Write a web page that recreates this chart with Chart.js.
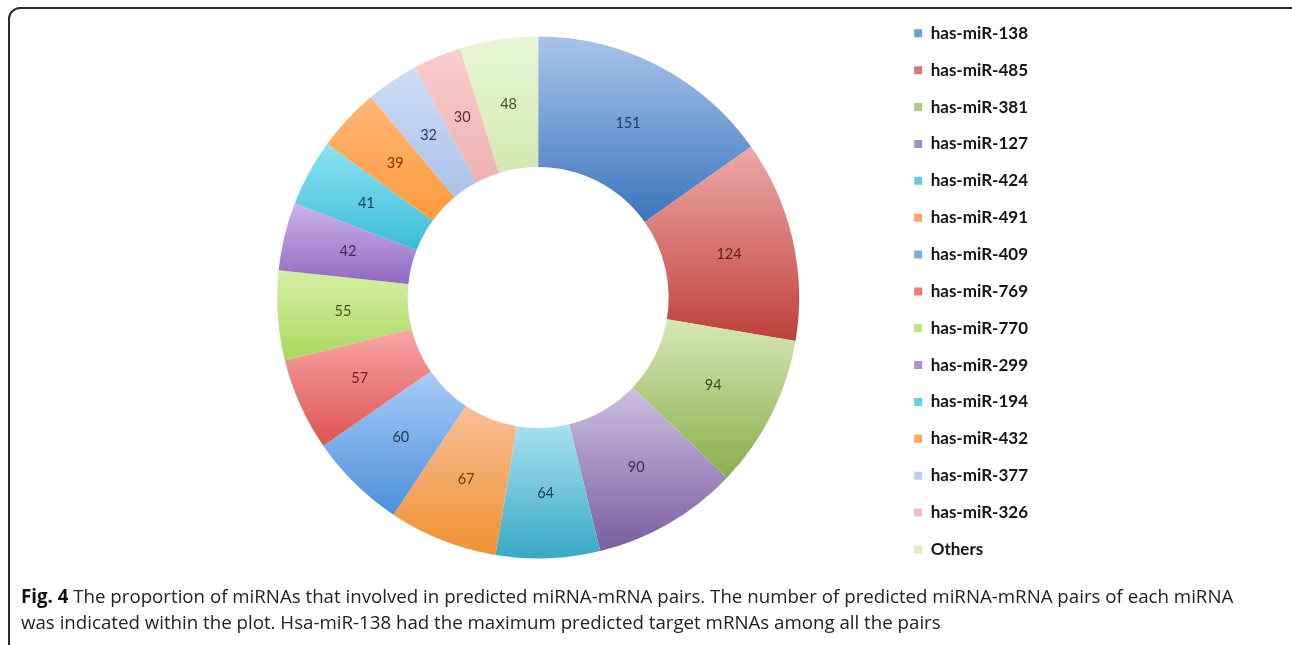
<!DOCTYPE html>
<html>
<head>
<meta charset="utf-8">
<script src="https://cdn.jsdelivr.net/npm/chart.js@4"></script>
<style>
  html, body { margin: 0; padding: 0; background: #fff; width: 1292px; height: 645px; overflow: hidden; }
  .frame { position: absolute; left: 8px; top: 7px; width: 1310px; height: 660px; border: 2px solid #2b2b2b; border-radius: 12px; box-sizing: border-box; }
  .plot { position: absolute; left: 182px; top: 4.5px; }
  .caption { position: absolute; left: 21px; top: 583px; width: 1225px; font-family: "Open Sans", sans-serif; font-size: 18.7px; line-height: 26px; color: #222; }
  .caption b { font-weight: 700; color: #111; }
</style>
</head>
<body>
<div class="frame"></div>
<div class="plot"><canvas id="chart" width="856" height="585"></canvas></div>
<div class="caption"><b>Fig. 4</b> The proportion of miRNAs that involved in predicted miRNA-mRNA pairs. The number of predicted miRNA-mRNA pairs of each miRNA was indicated within the plot. Hsa-miR-138 had the maximum predicted target mRNAs among all the pairs</div>
<script>
// miRNA names, clockwise from 12 o'clock
const mirnas = ['has-miR-138', 'has-miR-485', 'has-miR-381', 'has-miR-127', 'has-miR-424',
  'has-miR-491', 'has-miR-409', 'has-miR-769', 'has-miR-770', 'has-miR-299',
  'has-miR-194', 'has-miR-432', 'has-miR-377', 'has-miR-326', 'Others'];
// number of predicted miRNA-mRNA pairs per miRNA
const pairCounts = [151, 124, 94, 90, 64, 67, 60, 57, 55, 42, 41, 39, 32, 30, 48];

// slice colours: top of each slice (light) to bottom (deep)
const lightTones = ['#A9C4EA', '#EDA9A7', '#D6E7B5', '#CCBFE0', '#A8E0F0', '#F9BE96', '#A9CCF7',
  '#F8A6A6', '#D6EFA4', '#D0B3E8', '#8CE3F2', '#FFB677', '#CCDDF5', '#F8CDCD', '#E9F5D5'];
const deepTones = ['#3A75BD', '#C0403D', '#8AAE4C', '#7A5DA0', '#38A8C6', '#F0912F', '#4A8FDB',
  '#DE5252', '#A9D860', '#8E6AC2', '#3ABCD8', '#FF9A3C', '#ABC2EA', '#EFB2B2', '#D3E8B1'];
const midTones = ['#6E9BD4', '#D77775', '#B0CB80', '#A390C2', '#6FC4DB', '#F5A866', '#77AEEA',
  '#EC7B7B', '#BEE37F', '#AE8ED6', '#62CFE5', '#FFA85A', '#BCCFEF', '#F3BFBF', '#DEEEC3'];
const valueInk = ['#1F3A66', '#5B1E1C', '#3C4D1F', '#3B2A55', '#163E4C', '#6A3A0E', '#1C3A62',
  '#6B1F1F', '#3E5A18', '#3C2A5C', '#123F4E', '#6E3C0A', '#2A3A5E', '#6B2A2E', '#3E4E28'];

// vertical extent of a ring segment, used to lay each slice's gradient top-to-bottom
function segmentYRange(arc) {
  const { y, startAngle, endAngle, innerRadius, outerRadius } = arc;
  let top = Infinity, bottom = -Infinity;
  const take = (a, r) => { const v = y + r * Math.sin(a); top = Math.min(top, v); bottom = Math.max(bottom, v); };
  [startAngle, endAngle].forEach(a => { take(a, innerRadius); take(a, outerRadius); });
  for (let k = -4; k <= 4; k++) {
    const a = Math.PI / 2 + k * Math.PI;
    if (a > startAngle && a < endAngle) { take(a, outerRadius); }
  }
  return [top, bottom];
}

const sliceGradient = {
  id: 'sliceGradient',
  beforeDatasetsDraw(chart) {
    const ctx = chart.ctx;
    chart.getDatasetMeta(0).data.forEach((arc, i) => {
      const [top, bottom] = segmentYRange(arc);
      const g = ctx.createLinearGradient(0, top, 0, bottom);
      g.addColorStop(0, lightTones[i]);
      g.addColorStop(1, deepTones[i]);
      arc.options = Object.assign({}, arc.options, { backgroundColor: g });
    });
  }
};

const sliceValues = {
  id: 'sliceValues',
  afterDatasetsDraw(chart) {
    const ctx = chart.ctx;
    const ds = chart.data.datasets[0];
    ctx.save();
    ctx.font = '14.5px Lato, "DejaVu Sans", sans-serif';
    ctx.textAlign = 'center';
    ctx.textBaseline = 'middle';
    chart.getDatasetMeta(0).data.forEach((arc, i) => {
      const p = arc.getCenterPoint();
      ctx.fillStyle = valueInk[i];
      ctx.fillText(String(ds.data[i]), p.x, p.y);
    });
    ctx.restore();
  }
};

new Chart(document.getElementById('chart'), {
  type: 'doughnut',
  data: {
    labels: mirnas,
    datasets: [{
      data: pairCounts,
      backgroundColor: midTones,
      borderWidth: 0,
      radius: 261,
      cutout: '50%'
    }]
  },
  options: {
    responsive: false,
    devicePixelRatio: 1,
    animation: false,
    events: [],
    layout: { padding: 0 },
    plugins: {
      tooltip: { enabled: false },
      legend: {
        position: 'right',
        align: 'start',
        labels: {
          boxWidth: 8,
          boxHeight: 8,
          padding: 19.86,
          color: '#151515',
          font: { family: 'Lato, "DejaVu Sans", sans-serif', size: 17, weight: 'bold' }
        }
      }
    }
  },
  plugins: [sliceGradient, sliceValues]
});
</script>
</body>
</html>
